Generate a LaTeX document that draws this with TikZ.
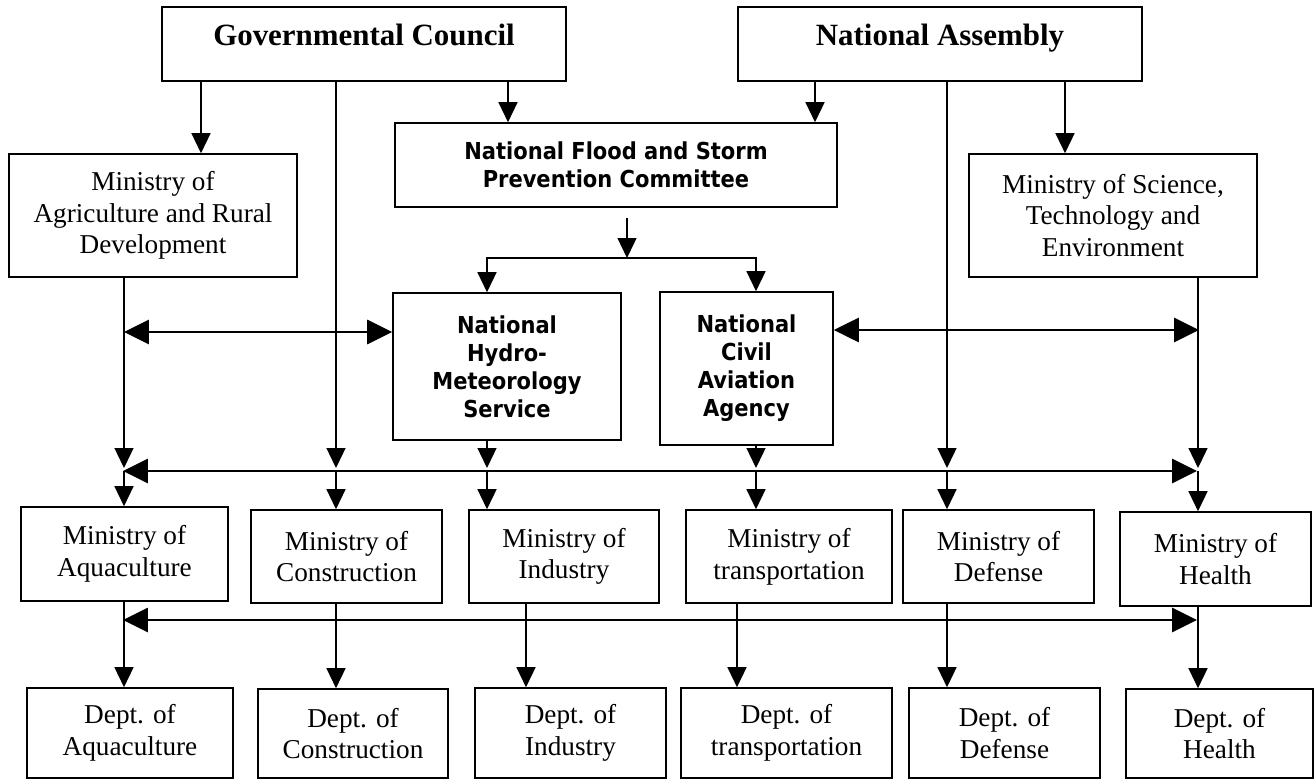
\documentclass[tikz,border=0pt]{standalone}
\usepackage{fontspec}
\setmainfont{Liberation Serif}
\newfontfamily\agencyfont{DejaVu Sans Condensed}
\usetikzlibrary{arrows.meta}

\begin{document}
\begin{tikzpicture}[x=0.02cm,y=-0.02cm,
  body/.style={draw,line width=.9pt,inner ysep=0pt,text height=.78cm,text depth=.7cm,minimum width=8.08cm,font=\bfseries\fontsize{17.6}{21}\selectfont},
  ministry/.style={draw,line width=.9pt,align=center,font=\fontsize{15.5}{18}\selectfont},
  agency/.style={draw,line width=.9pt,align=center,font=\agencyfont\bfseries\fontsize{13.3}{15.9}\selectfont},
  conn/.style={-{Triangle[length=.4cm,width=.38cm]},line width=.75pt},
  bidir/.style={{Triangle[length=.5cm,width=.48cm]}-{Triangle[length=.5cm,width=.48cm]},line width=1.6pt}]
  \useasboundingbox (0,0) rectangle (1314,780);
  \node[body] (gc) at (364,44) {Governmental Council};
  \node[body] (na) at (940,44) {National Assembly};
  \node[ministry,minimum width=5.76cm,minimum height=2.46cm] (moard) at (153,215.5) {Ministry of\\Agriculture and Rural\\Development};
  \node[agency,minimum width=8.84cm,minimum height=1.68cm] (nfspc) at (616,165) {National Flood and Storm\\Prevention Committee};
  \node[ministry,minimum width=5.76cm,minimum height=2.46cm] (moste) at (1113,215.5) {Ministry of Science,\\Technology and\\Environment};
  \node[agency,minimum width=4.56cm,minimum height=2.94cm] (nhms) at (507,366.5) {National\\Hydro-\\Meteorology\\Service};
  \node[agency,minimum width=3.46cm,minimum height=3.06cm] (ncaa) at (746.5,368.5) {National\\Civil\\Aviation\\Agency};
  \node[ministry,minimum width=4.14cm,minimum height=1.88cm] (moaq) at (124.5,554) {Ministry of\\Aquaculture};
  \node[ministry,minimum width=3.82cm,minimum height=1.86cm] (mocon) at (346.5,556.5) {Ministry of\\Construction};
  \node[ministry,minimum width=3.8cm,minimum height=1.86cm] (moind) at (564,556.5) {Ministry of\\Industry};
  \node[ministry,minimum width=4.12cm,minimum height=1.86cm] (motra) at (789,556.5) {Ministry of\\transportation};
  \node[ministry,minimum width=3.82cm,minimum height=1.86cm] (modef) at (998.5,556.5) {Ministry of\\Defense};
  \node[ministry,minimum width=3.82cm,minimum height=1.88cm] (mohea) at (1215.5,559) {Ministry of\\Health};
  \node[ministry,minimum width=4.12cm,minimum height=1.8cm] (deaq) at (130,733) {Dept. of\\Aquaculture};
  \node[ministry,minimum width=3.8cm,minimum height=1.78cm] (decon) at (353,733.5) {Dept. of\\Construction};
  \node[ministry,minimum width=3.82cm,minimum height=1.8cm] (deind) at (570.5,733) {Dept. of\\Industry};
  \node[ministry,minimum width=4.22cm,minimum height=1.8cm] (detra) at (786.5,733) {Dept. of\\transportation};
  \node[ministry,minimum width=3.82cm,minimum height=1.8cm] (dedef) at (1004.5,733) {Dept. of\\Defense};
  \node[ministry,minimum width=3.74cm,minimum height=1.78cm] (dehea) at (1219.5,733.5) {Dept. of\\Health};
  \foreach \n/\v in {xa/124,xb/201,xc/336,xd/508,xe/487,xf/627,xg/756,xh/815,xi/947,xj/1065,xk/1198,xl/526,xm/737}
    \coordinate (\n) at (\v,0);
  \coordinate (fork) at (627,258);
  \coordinate (tipa) at (0,468);
  \coordinate (linka) at (124,332);
  \coordinate (linkb) at (1199,330);
  \coordinate (busl) at (123,471);
  \coordinate (busr) at (1197,471);
  \coordinate (lowl) at (123,620);
  \coordinate (lowr) at (1197,620);
  \draw[conn] (gc.south -| xb) -- (moard.north -| xb);
  \draw[conn] (gc.south -| xd) -- (nfspc.north -| xd);
  \draw[conn] (na.south -| xh) -- (nfspc.north -| xh);
  \draw[conn] (na.south -| xj) -- (moste.north -| xj);
  \draw[conn,shorten <=.2cm] (nfspc.south -| fork) -- (fork);
  \draw[conn] (fork) -| (nhms.north -| xe);
  \draw[conn] (fork) -| (ncaa.north -| xg);
  \draw[conn] (moard.south -| xa) -- (xa |- tipa);
  \draw[conn] (gc.south -| xc) -- (xc |- tipa);
  \draw[conn] (nhms.south -| xe) -- (xe |- tipa);
  \draw[conn] (ncaa.south -| xg) -- (xg |- tipa);
  \draw[conn] (na.south -| xi) -- (xi |- tipa);
  \draw[conn] (moste.south -| xk) -- (xk |- tipa);
  \draw[bidir] (linka) -- (linka -| nhms.west);
  \draw[bidir] (linkb -| ncaa.east) -- (linkb);
  \draw[bidir] (busl) -- (busr);
  \foreach \m/\x in {moaq/xa,mocon/xc,moind/xe,motra/xg,modef/xi,mohea/xk}
    \draw[conn] (\x |- busl) -- (\m.north -| \x);
  \draw[bidir] (lowl) -- (lowr);
  \foreach \m/\d/\x in {moaq/deaq/xa,mocon/decon/xc,moind/deind/xl,motra/detra/xm,modef/dedef/xi,mohea/dehea/xk}
    \draw[conn] (\m.south -| \x) -- (\d.north -| \x);
\end{tikzpicture}
\end{document}
